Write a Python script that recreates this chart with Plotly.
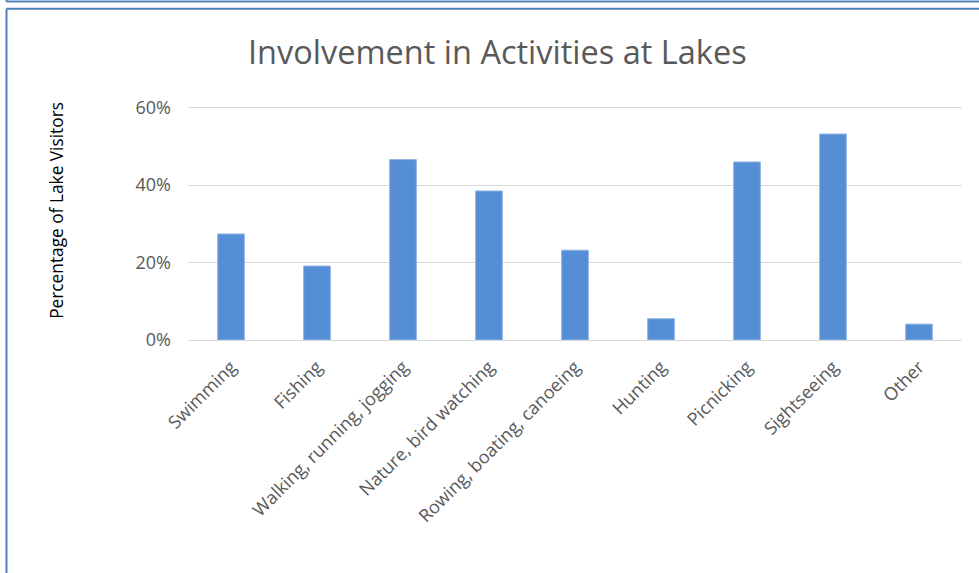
import plotly.graph_objects as go

categories = ["Swimming", "Fishing", "Walking, running, jogging", "Nature, bird watching",
              "Rowing, boating, canoeing", "Hunting", "Picnicking", "Sightseeing", "Other"]
values = [0.274, 0.191, 0.466, 0.385, 0.232, 0.055, 0.460, 0.532, 0.041]
y_ticks = [0, 0.2, 0.4, 0.6]

W, H = 979, 573
Y_MAX = 0.62
L, R, B = 188, 962, 340
T = B - (B - 108) / 0.6 * Y_MAX

def px(x):
    return (x - L) / (R - L)

def py(y):
    return (B - y) / (B - T)

fig = go.Figure(go.Bar(
    x=categories, y=values,
    marker=dict(color="#558ED5", line=dict(color="#8FB3E3", width=1)),
    width=0.31,
))

border = "#4F81BD"
shapes = [
    dict(type="line", xref="paper", yref="paper", x0=px(6.5), x1=px(990), y0=py(2), y1=py(2),
         line=dict(color=border, width=2)),
    dict(type="line", xref="paper", yref="paper", x0=px(6.5), x1=px(6.5), y0=py(-5), y1=py(2),
         line=dict(color=border, width=2)),
    dict(type="line", xref="paper", yref="paper", x0=px(6.5), x1=px(990), y0=py(9), y1=py(9),
         line=dict(color=border, width=2)),
    dict(type="line", xref="paper", yref="paper", x0=px(6.5), x1=px(6.5), y0=py(9), y1=py(600),
         line=dict(color=border, width=2)),
]

fig.update_layout(
    width=W, height=H,
    margin=dict(l=L, r=W - R, t=T, b=H - B),
    paper_bgcolor="white", plot_bgcolor="white",
    font=dict(family="Open Sans", color="#595959"),
    title=dict(text="Involvement in Activities at Lakes", x=0.508, xanchor="center",
               y=1 - 53 / H, yanchor="middle", yref="container",
               font=dict(size=32.5, color="#595959", family="Open Sans")),
    showlegend=False,
    shapes=shapes,
    xaxis=dict(tickangle=-45, tickfont=dict(size=18, color="#595959"), showgrid=False,
               showline=False, ticks="", fixedrange=True, ticklabelstandoff=12),
    yaxis=dict(range=[0, Y_MAX], tickvals=y_ticks, tickformat=".0%",
               tickfont=dict(size=18, color="#595959"), gridcolor="#D9D9D9", gridwidth=1.3,
               zeroline=True, zerolinecolor="#D9D9D9", zerolinewidth=1.3,
               showline=False, ticks="", ticklabelstandoff=16, fixedrange=True),
    annotations=[dict(text="Percentage of Lake Visitors", textangle=-90, xref="paper", yref="paper",
                      x=px(57), y=py(211), xanchor="center", yanchor="middle", showarrow=False,
                      font=dict(size=17.3, color="#000000", family="Open Sans"))],
)

fig.write_html("out.html", config={"displayModeBar": False},
               post_script="document.body.style.margin='0';document.body.style.overflow='hidden';")
